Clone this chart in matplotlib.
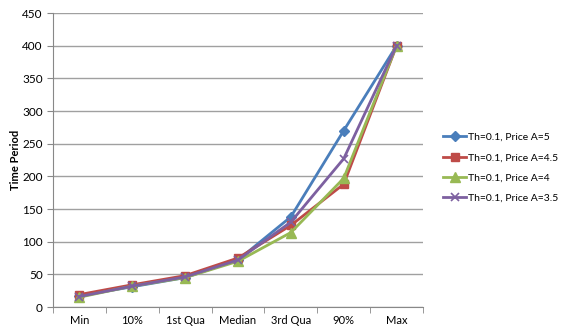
import numpy as np
import matplotlib
matplotlib.use("Agg")
from matplotlib import pyplot as plt

categories = ["Min", "10%", "1st Qua", "Median", "3rd Qua", "90%", "Max"]
price_5 = [17, 31, 45, 72, 138, 270, 400]
price_45 = [19, 34, 48, 75, 125, 188, 400]
price_4 = [15, 32, 45, 70, 114, 197, 400]
price_35 = [16, 32, 46, 72, 130, 227, 400]

plt.rcParams['font.family'] = ['Lato', 'DejaVu Sans']

fig = plt.figure(figsize=(5.7, 3.29), dpi=100)
ax = fig.add_axes([53 / 570, 22 / 329, 370 / 570, 294 / 329])

x = np.arange(len(categories))
series = [
    (price_5, "Th=0.1, Price A=5", "#4A7EBB", "D", 5),
    (price_45, "Th=0.1, Price A=4.5", "#BE4B48", "s", 6),
    (price_4, "Th=0.1, Price A=4", "#98B954", "^", 7),
    (price_35, "Th=0.1, Price A=3.5", "#7D60A0", "x", 6),
]
for vals, label, color, marker, ms in series:
    ax.plot(x, vals, color=color, marker=marker, markersize=ms, linewidth=2,
            markeredgewidth=1 if marker != "x" else 1.2, label=label)

ax.set_xlim(-0.5, len(categories) - 0.5)
ax.set_ylim(0, 450)
ax.set_yticks(np.arange(0, 451, 50))
ax.set_xticks(x)
ax.set_xticklabels(categories, fontsize=8)
ax.set_xticks(np.arange(-0.5, len(categories), 1), minor=True)
ax.tick_params(axis="x", which="major", length=0, pad=6)
ax.tick_params(axis="x", which="minor", length=4, color="#888888", direction="out")
ax.tick_params(axis="y", length=4, color="#888888", labelsize=8.5, direction="out")
ax.set_ylabel("Time Period", fontsize=8, fontweight="bold", labelpad=1)
ax.grid(axis="y", color="#a0a0a0", linewidth=1)
ax.set_axisbelow(True)
for side in ["top", "right"]:
    ax.spines[side].set_visible(False)
for side in ["left", "bottom"]:
    ax.spines[side].set_color("#888888")

fig.legend(loc="center left", bbox_to_anchor=(0.765, 0.49), frameon=False,
           fontsize=7.5, handlelength=2.2, handletextpad=0.15, labelspacing=1.05,
           borderpad=0.2)

fig.savefig("out.png", dpi=100)
